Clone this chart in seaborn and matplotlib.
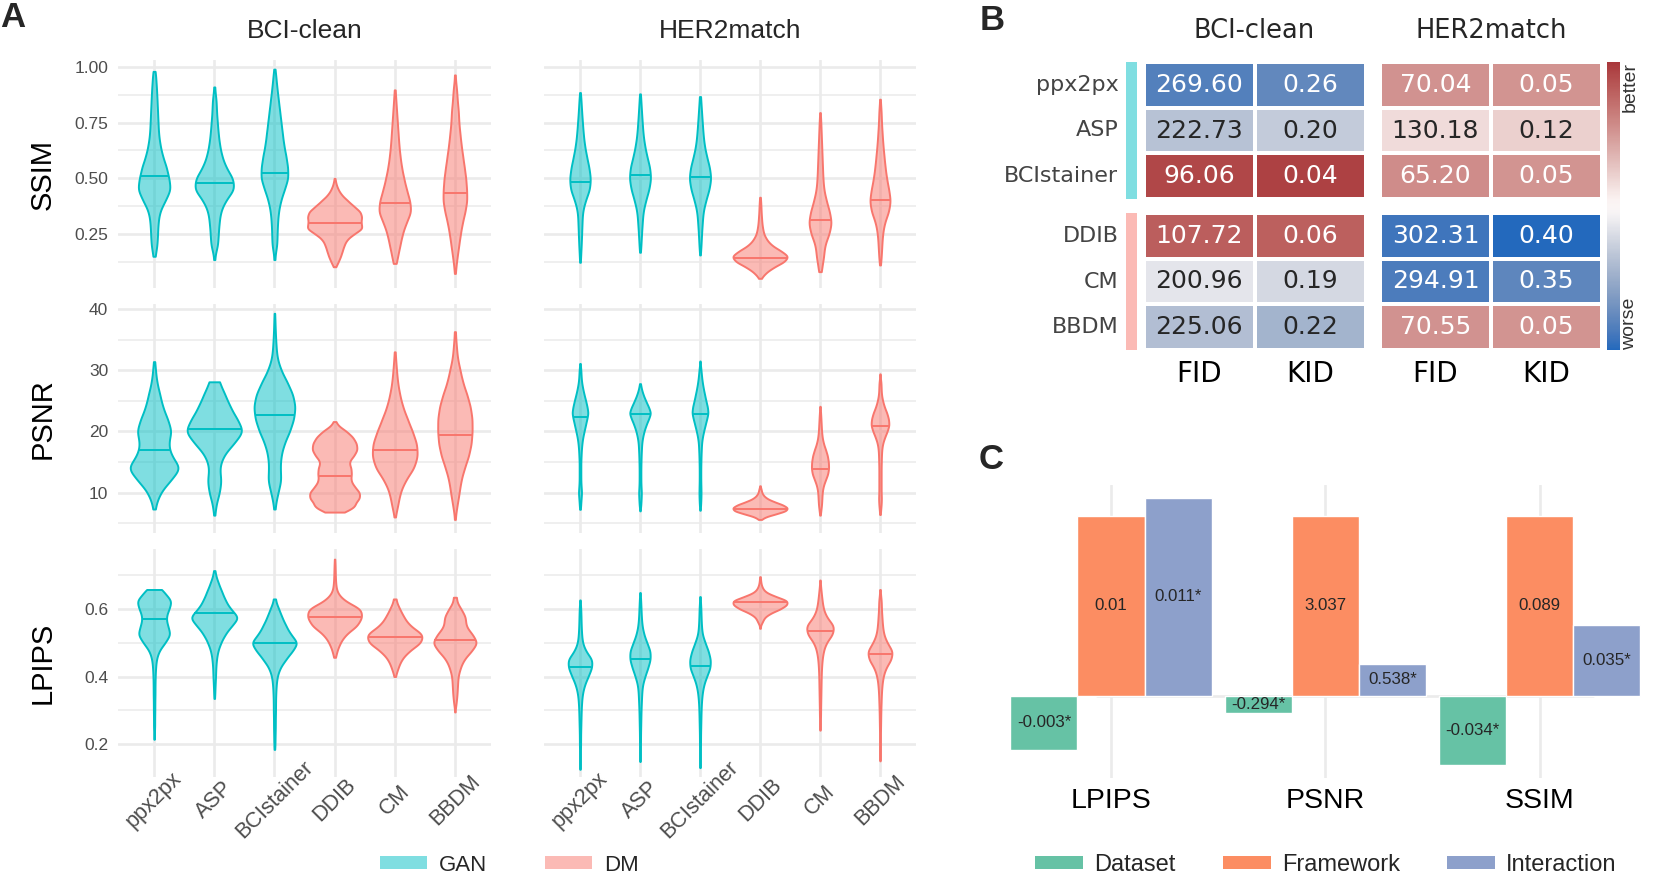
import numpy as np
import pandas as pd
import matplotlib
matplotlib.use("Agg")
import matplotlib.pyplot as plt
import seaborn as sns
from matplotlib.patches import Patch
from matplotlib.collections import PolyCollection
from matplotlib.colors import to_rgba
from matplotlib.ticker import FormatStrFormatter

sns.set_style("white")
plt.rcParams['font.family'] = ['Liberation Sans', 'DejaVu Sans']

W, H = 1661, 896

models = ["ppx2px", "ASP", "BCIstainer", "DDIB", "CM", "BBDM"]
model_type = ["GAN", "GAN", "GAN", "DM", "DM", "DM"]
datasets = ["BCI-clean", "HER2match"]
metrics_a = ["SSIM", "PSNR", "LPIPS"]

# ---- panel A: violin profiles: (value levels, width of the violin at that level)
ssim_bci = {
    "ppx2px": ([0.15, 0.2, 0.25, 0.3, 0.35, 0.4, 0.45, 0.5, 0.55, 0.6, 0.65, 0.7, 0.75, 0.8, 0.85, 0.9, 0.95, 0.98],
               [4, 12, 14, 16, 22, 45, 68, 60, 50, 34, 24, 18, 16, 14, 12, 10, 8, 3]),
    "ASP": ([0.135, 0.2, 0.25, 0.3, 0.35, 0.4, 0.45, 0.5, 0.55, 0.6, 0.65, 0.7, 0.75, 0.8, 0.85, 0.91],
            [2, 14, 18, 22, 28, 50, 92, 85, 52, 34, 24, 18, 14, 10, 8, 2]),
    "BCIstainer": ([0.135, 0.2, 0.25, 0.3, 0.35, 0.4, 0.45, 0.5, 0.55, 0.6, 0.65, 0.7, 0.75, 0.8, 0.85, 0.9, 0.95, 0.99],
                   [2, 10, 12, 14, 18, 28, 45, 62, 60, 52, 42, 36, 30, 24, 18, 12, 8, 2]),
    "DDIB": ([0.103, 0.125, 0.15, 0.175, 0.2, 0.225, 0.25, 0.275, 0.3, 0.325, 0.35, 0.375, 0.4, 0.425, 0.45, 0.475, 0.5],
             [4, 22, 35, 45, 55, 70, 110, 165, 150, 158, 150, 110, 75, 40, 20, 8, 2]),
    "CM": ([0.118, 0.15, 0.2, 0.25, 0.3, 0.35, 0.4, 0.45, 0.5, 0.55, 0.6, 0.65, 0.7, 0.75, 0.8, 0.85, 0.897],
           [4, 18, 28, 40, 60, 88, 80, 62, 48, 36, 28, 22, 18, 14, 10, 6, 2]),
    "BBDM": ([0.073, 0.1, 0.15, 0.2, 0.25, 0.3, 0.35, 0.4, 0.45, 0.5, 0.55, 0.6, 0.65, 0.7, 0.75, 0.8, 0.85, 0.9, 0.964],
             [1, 6, 12, 20, 28, 38, 52, 62, 60, 56, 48, 40, 32, 26, 20, 18, 12, 8, 2]),
}
ssim_bci_median = [0.51, 0.478, 0.525, 0.301, 0.39, 0.433]

ssim_her2 = {
    "ppx2px": ([0.123, 0.15, 0.2, 0.25, 0.3, 0.35, 0.4, 0.45, 0.5, 0.55, 0.6, 0.65, 0.7, 0.75, 0.8, 0.85, 0.885],
               [1, 4, 6, 8, 10, 12, 26, 48, 52, 44, 32, 22, 16, 12, 8, 6, 1]),
    "ASP": ([0.168, 0.2, 0.25, 0.3, 0.35, 0.4, 0.45, 0.5, 0.55, 0.6, 0.65, 0.7, 0.75, 0.8, 0.85, 0.879],
            [1, 6, 8, 12, 16, 30, 48, 58, 52, 36, 24, 16, 12, 8, 6, 1]),
    "BCIstainer": ([0.156, 0.2, 0.25, 0.3, 0.35, 0.4, 0.45, 0.5, 0.55, 0.6, 0.65, 0.7, 0.75, 0.8, 0.85, 0.867],
                   [1, 6, 8, 12, 16, 30, 48, 58, 50, 34, 22, 16, 12, 8, 6, 1]),
    "DDIB": ([0.051, 0.075, 0.1, 0.125, 0.15, 0.175, 0.2, 0.225, 0.25, 0.275, 0.3, 0.325, 0.35, 0.375, 0.4, 0.415],
             [4, 30, 70, 130, 155, 110, 60, 35, 20, 14, 10, 8, 6, 5, 4, 1]),
    "CM": ([0.081, 0.1, 0.15, 0.2, 0.25, 0.3, 0.35, 0.4, 0.45, 0.5, 0.55, 0.6, 0.65, 0.7, 0.75, 0.795],
           [2, 12, 18, 22, 44, 56, 46, 30, 18, 14, 12, 10, 8, 6, 4, 1]),
    "BBDM": ([0.111, 0.15, 0.2, 0.25, 0.3, 0.35, 0.4, 0.45, 0.5, 0.55, 0.6, 0.65, 0.7, 0.75, 0.8, 0.855],
             [1, 8, 10, 14, 24, 48, 58, 48, 36, 28, 22, 16, 12, 8, 6, 2]),
}
ssim_her2_median = [0.484, 0.516, 0.505, 0.144, 0.313, 0.403]

psnr_bci = {
    "ppx2px": ([7.3, 8, 10, 12, 14, 16, 18, 20, 22, 24, 26, 28, 30, 31.4],
               [2, 12, 32, 85, 142, 88, 72, 92, 70, 44, 30, 14, 8, 2]),
    "ASP": ([6.3, 8, 10, 12, 14, 16, 18, 20, 22, 24, 26, 28.1],
            [2, 10, 30, 40, 28, 50, 110, 170, 130, 90, 60, 30]),
    "BCIstainer": ([7.3, 8, 10, 12, 14, 16, 18, 20, 22, 24, 26, 28, 30, 32, 34, 36, 38, 39.3],
                   [2, 8, 22, 42, 35, 40, 60, 95, 120, 130, 115, 80, 40, 16, 10, 6, 4, 1]),
    "DDIB": ([6.8, 7.4, 8, 9, 10, 11, 12, 13, 14, 15, 16, 17, 18, 19, 20, 21, 21.6],
             [62, 100, 128, 150, 150, 116, 94, 100, 98, 82, 114, 135, 130, 110, 72, 20, 2]),
    "CM": ([6, 8, 10, 12, 14, 16, 18, 20, 22, 24, 26, 28, 30, 32, 33],
           [2, 18, 30, 60, 110, 130, 125, 100, 72, 45, 28, 16, 10, 6, 1]),
    "BBDM": ([5.6, 8, 10, 12, 14, 16, 18, 20, 22, 24, 26, 28, 30, 32, 34, 36.3],
             [2, 12, 25, 35, 55, 80, 95, 100, 100, 90, 70, 45, 30, 14, 8, 3]),
}
psnr_bci_median = [16.9, 20.4, 22.7, 12.7, 16.9, 19.4]

psnr_her2 = {
    "ppx2px": ([7.25, 8, 9, 10, 11, 12, 13, 14, 15, 16, 17, 18, 19, 20, 21, 22, 23, 24, 25, 26, 27, 28, 29, 30, 31.1],
               [2, 6, 8, 12, 8, 6, 6, 6, 6, 8, 10, 14, 20, 30, 40, 50, 60, 52, 42, 30, 20, 12, 8, 6, 2]),
    "ASP": ([7, 8, 9, 10, 11, 12, 13, 14, 15, 16, 17, 18, 19, 20, 21, 22, 23, 24, 25, 26, 27, 27.8],
            [1, 6, 8, 10, 7, 6, 6, 6, 7, 8, 10, 12, 18, 28, 42, 60, 78, 60, 40, 22, 10, 2]),
    "BCIstainer": ([7.1, 8, 9, 10, 11, 12, 13, 14, 15, 16, 17, 18, 19, 20, 21, 22, 23, 24, 25, 26, 27, 28, 29, 30, 31, 31.5],
                   [1, 5, 7, 8, 7, 6, 6, 6, 7, 8, 10, 12, 18, 28, 40, 52, 64, 58, 46, 36, 26, 18, 12, 8, 3, 1]),
    "DDIB": ([5.6, 6, 6.5, 7, 7.5, 8, 8.5, 9, 9.5, 10, 10.5, 11.1],
             [4, 30, 90, 150, 160, 130, 80, 40, 20, 10, 6, 2]),
    "CM": ([6.3, 7, 8, 9, 10, 11, 12, 13, 14, 15, 16, 17, 18, 19, 20, 21, 22, 23, 24.1],
           [1, 6, 10, 12, 14, 20, 34, 50, 56, 54, 48, 36, 22, 14, 10, 8, 6, 4, 1]),
    "BBDM": ([6.4, 7, 8, 9, 10, 11, 12, 13, 14, 15, 16, 17, 18, 19, 20, 21, 22, 23, 24, 25, 26, 27, 28, 29.4],
             [1, 5, 8, 10, 8, 8, 8, 8, 8, 9, 10, 12, 18, 32, 50, 64, 60, 48, 30, 18, 10, 8, 6, 1]),
}
psnr_her2_median = [22.4, 22.8, 22.9, 7.25, 13.8, 20.9]

lpips_bci = {
    "ppx2px": ([0.214, 0.25, 0.275, 0.3, 0.325, 0.35, 0.375, 0.4, 0.425, 0.45, 0.475, 0.5, 0.525, 0.55, 0.575, 0.6, 0.625, 0.65, 0.658],
               [1, 3, 3, 4, 4, 5, 5, 6, 8, 12, 25, 60, 92, 75, 64, 82, 100, 70, 40]),
    "ASP": ([0.335, 0.35, 0.375, 0.4, 0.425, 0.45, 0.475, 0.5, 0.525, 0.55, 0.575, 0.6, 0.625, 0.65, 0.675, 0.7, 0.714],
            [1, 3, 4, 6, 7, 10, 16, 30, 50, 80, 118, 75, 52, 36, 20, 8, 1]),
    "BCIstainer": ([0.184, 0.2, 0.225, 0.25, 0.275, 0.3, 0.325, 0.35, 0.375, 0.4, 0.425, 0.45, 0.475, 0.5, 0.525, 0.55, 0.575, 0.6, 0.63],
                   [1, 3, 3, 4, 4, 5, 5, 6, 8, 12, 24, 50, 80, 108, 72, 52, 34, 18, 4]),
    "DDIB": ([0.457, 0.475, 0.5, 0.525, 0.55, 0.575, 0.6, 0.625, 0.65, 0.675, 0.7, 0.725, 0.748],
             [2, 14, 30, 60, 125, 150, 150, 50, 12, 6, 4, 3, 1]),
    "CM": ([0.4, 0.425, 0.45, 0.475, 0.5, 0.525, 0.55, 0.575, 0.6, 0.63],
           [2, 14, 28, 60, 115, 125, 65, 40, 20, 5]),
    "BBDM": ([0.295, 0.325, 0.35, 0.375, 0.4, 0.425, 0.45, 0.475, 0.5, 0.525, 0.55, 0.575, 0.6, 0.635],
             [1, 6, 10, 12, 14, 24, 40, 75, 105, 80, 48, 50, 24, 6]),
}
lpips_bci_median = [0.570, 0.587, 0.498, 0.575, 0.516, 0.508]

lpips_her2 = {
    "ppx2px": ([0.125, 0.15, 0.175, 0.2, 0.225, 0.25, 0.275, 0.3, 0.325, 0.35, 0.375, 0.4, 0.425, 0.45, 0.475, 0.5, 0.525, 0.55, 0.575, 0.6, 0.627],
               [1, 2, 2, 3, 3, 4, 5, 6, 8, 12, 22, 40, 58, 62, 28, 12, 8, 6, 5, 4, 1]),
    "ASP": ([0.148, 0.175, 0.2, 0.225, 0.25, 0.275, 0.3, 0.325, 0.35, 0.375, 0.4, 0.425, 0.45, 0.475, 0.5, 0.525, 0.55, 0.575, 0.6, 0.625, 0.649],
            [1, 2, 3, 3, 4, 5, 6, 8, 10, 14, 28, 45, 60, 60, 40, 22, 12, 8, 6, 4, 1]),
    "BCIstainer": ([0.13, 0.15, 0.175, 0.2, 0.225, 0.25, 0.275, 0.3, 0.325, 0.35, 0.375, 0.4, 0.425, 0.45, 0.475, 0.5, 0.525, 0.55, 0.575, 0.6, 0.625, 0.637],
                   [1, 2, 2, 3, 3, 4, 5, 6, 8, 12, 20, 36, 56, 58, 46, 28, 12, 8, 6, 5, 3, 1]),
    "DDIB": ([0.543, 0.5625, 0.575, 0.5875, 0.6, 0.6125, 0.625, 0.6375, 0.65, 0.6625, 0.675, 0.6875, 0.696],
             [2, 12, 25, 60, 120, 160, 165, 90, 32, 14, 6, 3, 1]),
    "CM": ([0.241, 0.275, 0.3, 0.325, 0.35, 0.375, 0.4, 0.425, 0.45, 0.475, 0.5, 0.525, 0.55, 0.575, 0.6, 0.625, 0.65, 0.675, 0.686],
           [1, 3, 4, 5, 6, 7, 8, 10, 14, 22, 40, 85, 95, 44, 22, 14, 8, 3, 1]),
    "BBDM": ([0.15, 0.175, 0.2, 0.225, 0.25, 0.275, 0.3, 0.325, 0.35, 0.375, 0.4, 0.425, 0.45, 0.475, 0.5, 0.525, 0.55, 0.575, 0.6, 0.625, 0.658],
             [1, 2, 3, 3, 4, 5, 6, 8, 10, 14, 22, 40, 80, 92, 50, 26, 18, 14, 10, 8, 2]),
}
lpips_her2_median = [0.427, 0.453, 0.432, 0.621, 0.536, 0.467]

# ---- panel B: FID / KID
bci_fid = [269.60, 222.73, 96.06, 107.72, 200.96, 225.06]
bci_kid = [0.26, 0.20, 0.04, 0.06, 0.19, 0.22]
her2_fid = [70.04, 130.18, 65.20, 302.31, 294.91, 70.55]
her2_kid = [0.05, 0.12, 0.05, 0.40, 0.35, 0.05]

# ---- panel C: effect estimates
metrics_c = ["LPIPS", "PSNR", "SSIM"]
terms = ["Dataset", "Framework", "Interaction"]
effect_dataset = [-0.003, -0.294, -0.034]
effect_framework = [0.01, 3.037, 0.089]
effect_interaction = [0.011, 0.538, 0.035]
signif_dataset = [True, True, True]
signif_framework = [False, False, False]
signif_interaction = [True, True, True]

palette = {"GAN": "#00BFC4", "DM": "#F8766D"}
set2 = {"Dataset": "#66C2A5", "Framework": "#FC8D62", "Interaction": "#8DA0CB"}
grid_col = "#EBEBEB"
tick_col = "#4D4D4D"

fig = plt.figure(figsize=(W / 100, H / 100), dpi=100)


def add_ax(l, t, r, b):
    return fig.add_axes([l / W, 1 - b / H, (r - l) / W, (b - t) / H])


def bw_from_spacing(kde):
    d = np.asarray(kde.dataset).ravel()
    step = np.median(np.diff(np.unique(d)))
    return 0.6 * step / d.std(ddof=1)


def draw_violins(ax, profiles, medians, ref):
    parts = []
    for i, m in enumerate(models):
        lv, wd = profiles[m]
        lv = np.asarray(lv, float)
        n = np.maximum(np.round(np.asarray(wd) * np.gradient(lv) / ref).astype(int), 1)
        parts.append(pd.DataFrame({"model": m, "kind": model_type[i], "value": np.repeat(lv, n)}))
    df = pd.concat(parts, ignore_index=True)
    sns.violinplot(data=df, x="model", y="value", hue="kind", order=models,
                   hue_order=["GAN", "DM"], palette=palette, saturation=1, cut=0,
                   inner=None, density_norm="area", common_norm=True, width=0.9,
                   bw_method=bw_from_spacing, linewidth=1.4, legend=False, ax=ax)
    for coll in list(ax.collections):
        if not isinstance(coll, PolyCollection):
            continue
        v = coll.get_paths()[0].vertices
        pos = int(round((v[:, 0].max() + v[:, 0].min()) / 2))
        col = palette[model_type[pos]]
        coll.set_facecolor(to_rgba(col, 0.5))
        coll.set_edgecolor(col)
        coll.set_linewidth(1.4)
        right = v[v[:, 0] > pos]
        o = np.argsort(right[:, 1])
        hw = np.interp(medians[pos], right[o, 1], right[o, 0]) - pos
        ax.plot([pos - hw, pos + hw], [medians[pos]] * 2, color=col, lw=1.4,
                solid_capstyle="butt", zorder=3)


panel_data = {
    ("SSIM", 0): (ssim_bci, ssim_bci_median), ("SSIM", 1): (ssim_her2, ssim_her2_median),
    ("PSNR", 0): (psnr_bci, psnr_bci_median), ("PSNR", 1): (psnr_her2, psnr_her2_median),
    ("LPIPS", 0): (lpips_bci, lpips_bci_median), ("LPIPS", 1): (lpips_her2, lpips_her2_median),
}
ref_step = {"SSIM": 0.025, "PSNR": 0.5, "LPIPS": 0.0125}
ylims = {"SSIM": (0.0076, 1.031), "PSNR": (3.38, 40.82), "LPIPS": (0.1022, 0.778)}
yticks = {"SSIM": [0.25, 0.5, 0.75, 1.0], "PSNR": [10, 20, 30, 40], "LPIPS": [0.2, 0.4, 0.6]}
yminor = {"SSIM": [0.125, 0.375, 0.625, 0.875], "PSNR": [5, 15, 25, 35], "LPIPS": [0.3, 0.5, 0.7]}
yfmt = {"SSIM": "%.2f", "PSNR": "%d", "LPIPS": "%.1f"}

cols_x = [(118, 491), (544, 916)]
rows_y = [(60, 288), (304, 533), (549, 777)]

for r, metric in enumerate(metrics_a):
    for c in range(2):
        ax = add_ax(cols_x[c][0], rows_y[r][0], cols_x[c][1], rows_y[r][1])
        prof, med = panel_data[(metric, c)]
        draw_violins(ax, prof, med, ref_step[metric])
        ax.set_xlim(-0.6, 5.6)
        ax.set_ylim(*ylims[metric])
        ax.set_yticks(yticks[metric])
        ax.set_yticks(yminor[metric], minor=True)
        ax.yaxis.set_major_formatter(FormatStrFormatter(yfmt[metric]))
        ax.set_axisbelow(True)
        ax.grid(which="major", color=grid_col, lw=1.9)
        ax.grid(which="minor", axis="y", color=grid_col, lw=1.1)
        for s in ax.spines.values():
            s.set_visible(False)
        ax.tick_params(which="both", length=0)
        ax.tick_params(axis="y", labelsize=12.5, labelcolor=tick_col, pad=7)
        ax.set_xlabel("")
        ax.set_ylabel("")
        if c == 0:
            ax.set_ylabel(metric, fontsize=21, color="black")
            ax.yaxis.set_label_coords(-0.1635, 0.5)
        else:
            ax.tick_params(axis="y", labelleft=False)
        if r == 2:
            ax.set_xticks(range(len(models)))
            ax.set_xticklabels(models, rotation=45, ha="center", va="center",
                               rotation_mode="anchor", fontsize=15.5, color=tick_col)
            ax.tick_params(axis="x", pad=16.5)
        else:
            ax.tick_params(axis="x", labelbottom=False)

for c, name in enumerate(datasets):
    fig.text(sum(cols_x[c]) / 2 / W, 1 - 38 / H, name, ha="center", va="baseline", fontsize=19)

fig.legend(handles=[Patch(facecolor=to_rgba(palette["GAN"], 0.5), edgecolor="none", label="GAN"),
                    Patch(facecolor=to_rgba(palette["DM"], 0.5), edgecolor="none", label="DM")],
           loc="center", bbox_to_anchor=(509 / W, 1 - 865 / H), ncol=2, frameon=False,
           fontsize=16, handlelength=2.12, handleheight=0.54, handletextpad=0.54,
           columnspacing=2.6)

# ---- panel B
fid_bci = pd.DataFrame({"FID": bci_fid, "KID": bci_kid}, index=models)
fid_her2 = pd.DataFrame({"FID": her2_fid, "KID": her2_kid}, index=models)
score_bci = -(fid_bci - fid_bci.mean()) / fid_bci.std(ddof=0)
score_her2 = -(fid_her2 - fid_her2.mean()) / fid_her2.std(ddof=0)
lim = max(score_bci.abs().values.max(), score_her2.abs().values.max())

dv = "DejaVu Sans"
cax = add_ax(1607, 62, 1620, 350)
blocks = [(fid_bci, score_bci, 1143.5, 1365.6), (fid_her2, score_her2, 1380, 1602)]
groups = [(slice(0, 3), 62, 199), (slice(3, 6), 213, 350)]
cbar_owner = None
for j, (vals, sc, l, rr) in enumerate(blocks):
    for g, (sl, t, b) in enumerate(groups):
        ax = add_ax(l, t, rr, b)
        first = (j == 0 and g == 0)
        sns.heatmap(sc.iloc[sl], annot=vals.iloc[sl].values, fmt=".2f", cmap="vlag",
                    vmin=-lim, vmax=lim, cbar=first, cbar_ax=cax if first else None,
                    linewidths=1.5, linecolor="white", xticklabels=(g == 1),
                    yticklabels=(j == 0), annot_kws={"fontsize": 18, "fontfamily": dv}, ax=ax)
        if first:
            cbar_owner = ax
        ax.tick_params(length=0)
        if j == 0:
            ax.set_yticklabels(models[sl], rotation=0, fontsize=16, fontfamily=dv, color="#444444")
            ax.tick_params(axis="y", pad=18)
        if g == 1:
            ax.set_xticklabels(["FID", "KID"], rotation=0, fontsize=20, fontfamily=dv, color="black")
            ax.tick_params(axis="x", pad=7)
        ax.set_xlabel("")
        ax.set_ylabel("")
    fig.text((l + rr) / 2 / W, 1 - 38 / H, datasets[j], ha="center", va="baseline",
             fontsize=18.5, fontfamily=dv)

cax.set_yticks([])
for s in cax.spines.values():
    s.set_visible(False)
cb = cbar_owner.collections[0].colorbar
if cb is not None:
    cb.outline.set_visible(False)
fig.text(1630 / W, 1 - 62 / H, "better", rotation=90, ha="center", va="top",
         fontsize=14, color="#333333")
fig.text(1630 / W, 1 - 350 / H, "worse", rotation=90, ha="center", va="bottom",
         fontsize=14, color="#333333")

for (t, b), kind in zip([(62, 199), (213, 350)], ["GAN", "DM"]):
    sax = add_ax(1126, t, 1137, b)
    sax.set_facecolor(to_rgba(palette[kind], 0.5))
    sax.set_xticks([])
    sax.set_yticks([])
    for s in sax.spines.values():
        s.set_visible(False)

# ---- panel C
rows_c = []
for term, eff, sig in zip(terms, [effect_dataset, effect_framework, effect_interaction],
                          [signif_dataset, signif_framework, signif_interaction]):
    for m, e, fw, s in zip(metrics_c, eff, effect_framework, sig):
        rows_c.append({"metric": m, "term": term, "scaled": e / fw,
                       "label": f"{e:g}" + ("*" if s else "")})
dfc = pd.DataFrame(rows_c)

axc = add_ax(999.6, 485, 1651, 778)
sns.barplot(data=dfc, x="metric", y="scaled", hue="term", order=metrics_c, hue_order=terms,
            palette=set2, width=0.94, saturation=1, errorbar=None, legend=False, ax=axc)
for cont, term in zip(axc.containers, terms):
    labs = dfc[dfc.term == term].set_index("metric").loc[metrics_c, "label"].tolist()
    axc.bar_label(cont, labels=labs, label_type="center", fontsize=12.2)
axc.set_xlim(-0.52, 2.52)
axc.set_ylim(-0.456, 1.17)
axc.axhline(0, xmin=0.15, xmax=0.911, color=grid_col, lw=1.9, zorder=0)
axc.set_axisbelow(True)
axc.grid(axis="x", color=grid_col, lw=1.9)
axc.set_yticks([])
for s in axc.spines.values():
    s.set_visible(False)
axc.tick_params(axis="x", length=0, pad=7.2, labelsize=20.5, labelcolor="black")
axc.set_xlabel("")
axc.set_ylabel("")

fig.legend(handles=[Patch(facecolor=set2[t], edgecolor="none", label=t) for t in terms],
           loc="center", bbox_to_anchor=(1326 / W, 1 - 865 / H), ncol=3, frameon=False,
           fontsize=17, handlelength=2.03, handleheight=0.51, handletextpad=0.47,
           columnspacing=2.0)

# panel letters
for letter, x, y in [("A", 0, 1), ("B", 980, 4), ("C", 979, 443)]:
    fig.text(x / W, 1 - y / H, letter, ha="left", va="top", fontsize=25, fontweight="bold")

fig.savefig("out.png", dpi=100)
